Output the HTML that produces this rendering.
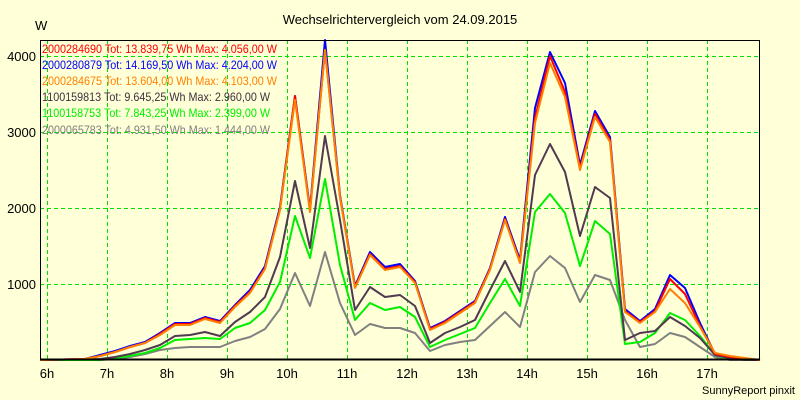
<!DOCTYPE html>
<html><head><meta charset="utf-8"><style>
html,body{margin:0;padding:0;background:#ffffd8;}
svg{display:block;font-family:"Liberation Sans",Arial,sans-serif;}
</style></head><body>
<svg width="800" height="400" viewBox="0 0 800 400" xmlns="http://www.w3.org/2000/svg">
<rect width="800" height="400" fill="#ffffd8"/>
<text x="400" y="24" font-size="13" text-anchor="middle" fill="#000">Wechselrichtervergleich vom 24.09.2015</text>
<text x="35" y="30" font-size="13" fill="#000">W</text>
<g stroke="#00e000" stroke-width="1" stroke-dasharray="4,3" fill="none">
<line x1="40" y1="56.5" x2="759" y2="56.5"/><line x1="40" y1="132.5" x2="759" y2="132.5"/>
<line x1="40" y1="208.5" x2="759" y2="208.5"/><line x1="40" y1="284.5" x2="759" y2="284.5"/>
<line x1="47.5" y1="40" x2="47.5" y2="359"/><line x1="107.5" y1="40" x2="107.5" y2="359"/>
<line x1="167.5" y1="40" x2="167.5" y2="359"/><line x1="227.5" y1="40" x2="227.5" y2="359"/>
<line x1="287.5" y1="40" x2="287.5" y2="359"/><line x1="347.5" y1="40" x2="347.5" y2="359"/>
<line x1="407.5" y1="40" x2="407.5" y2="359"/><line x1="467.5" y1="40" x2="467.5" y2="359"/>
<line x1="527.5" y1="40" x2="527.5" y2="359"/><line x1="587.5" y1="40" x2="587.5" y2="359"/>
<line x1="647.5" y1="40" x2="647.5" y2="359"/><line x1="707.5" y1="40" x2="707.5" y2="359"/>
</g>
<g font-size="13" fill="#000" text-anchor="end">
<text x="36" y="61">4000</text><text x="36" y="137">3000</text><text x="36" y="213">2000</text><text x="36" y="289">1000</text>
</g>
<g font-size="13" fill="#000" text-anchor="middle">
<text x="47" y="378">6h</text><text x="107" y="378">7h</text><text x="167" y="378">8h</text><text x="227" y="378">9h</text>
<text x="287" y="378">10h</text><text x="347" y="378">11h</text><text x="407" y="378">12h</text><text x="467" y="378">13h</text>
<text x="527" y="378">14h</text><text x="587" y="378">15h</text><text x="647" y="378">16h</text><text x="707" y="378">17h</text>
</g>
<text x="795" y="394" font-size="11" text-anchor="end" fill="#000">SunnyReport pinxit</text>
<g fill="none" stroke-width="2" stroke-linejoin="round">
<polyline stroke="#808080" points="40,360 100,360 115,359 130,357 145,354 160,350 175,348 190,347 205,347 220,347 235,341 250,337 265,329 280,309 295,273 310,306 325,252 340,303 355,335 370,324 385,328 400,328 415,333 430,351 445,345 460,342 475,340 490,326 505,312 520,327 535,272 550,256 565,268 580,302 595,275 610,280 625,320 640,347 655,344 670,333 685,337 700,347 715,357 730,360 760,360"/>
<polyline stroke="#00ee00" points="40,360 100,360 115,358 130,356 145,353 160,348 175,340 190,339 205,338 220,339 235,328 250,323 265,310 280,282 295,216 310,258 325,179 340,265 355,320 370,303 385,310 400,307 415,317 430,347 445,340 460,334 475,328 490,303 505,279 520,306 535,212 550,194 565,213 580,266 595,221 610,234 625,344 640,342 655,333 670,313 685,320 700,336 715,355 730,359 760,360"/>
<polyline stroke="#503a50" points="40,360 100,359 115,357 130,354 145,350 160,345 175,336 190,335 205,332 220,336 235,322 250,312 265,297 280,257 295,181 310,248 325,136 340,220 355,310 370,287 385,297 400,295 415,306 430,343 445,333 460,327 475,320 490,290 505,261 520,292 535,175 550,144 565,172 580,236 595,187 610,198 625,340 640,333 655,331 670,317 685,326 700,338 715,355 730,358 745,360 760,360"/>
<polyline stroke="#0000ff" points="40,360 85,359 100,355 115,351 130,346 145,342 160,333 175,323 190,323 205,317 220,321 235,305 250,290 265,266 280,207 295,96 310,209 325,40 340,195 355,286 370,252 385,267 400,264 415,281 430,328 445,321 460,311 475,301 490,268 505,217 520,260 535,108 550,52 565,83 580,165 595,111 610,137 625,309 640,321 655,309 670,275 685,288 700,323 715,354 730,357 745,359 760,360"/>
<polyline stroke="#ff0000" points="40,360 85,359 100,356 115,352 130,347 145,343 160,334 175,324 190,324 205,318 220,322 235,306 250,292 265,268 280,209 295,96 310,211 325,50 340,197 355,287 370,254 385,269 400,266 415,282 430,329 445,322 460,312 475,302 490,269 505,219 520,262 535,118 550,56 565,92 580,168 595,114 610,140 625,311 640,322 655,311 670,279 685,294 700,326 715,354 730,357 745,359 760,360"/>
<polyline stroke="#ff8000" points="40,360 85,359 100,356 115,352 130,347 145,343 160,335 175,325 190,325 205,319 220,323 235,307 250,293 265,269 280,210 295,100 310,212 325,50 340,197 355,288 370,255 385,270 400,267 415,283 430,330 445,323 460,313 475,303 490,270 505,220 520,263 535,123 550,63 565,97 580,170 595,117 610,142 625,312 640,323 655,312 670,289 685,303 700,327 715,353 730,356 745,358 760,360"/>
</g>
<rect x="40.5" y="40.5" width="719" height="319" fill="none" stroke="#000" stroke-width="1"/>
<line x1="40" y1="359.5" x2="760" y2="359.5" stroke="#000" stroke-width="2"/>
<g font-size="12">
<text x="42" y="53" fill="#ff0000" textLength="235" lengthAdjust="spacingAndGlyphs">2000284690 Tot: 13.839,75 Wh Max: 4.056,00 W</text>
<text x="42" y="69" fill="#0000ff" textLength="235" lengthAdjust="spacingAndGlyphs">2000280879 Tot: 14.169,50 Wh Max: 4.204,00 W</text>
<text x="42" y="85" fill="#ff8000" textLength="235" lengthAdjust="spacingAndGlyphs">2000284675 Tot: 13.604,00 Wh Max: 4.103,00 W</text>
<text x="42" y="101" fill="#403040" textLength="228" lengthAdjust="spacingAndGlyphs">1100159813 Tot: 9.645,25 Wh Max: 2.960,00 W</text>
<text x="42" y="117" fill="#00ee00" textLength="228" lengthAdjust="spacingAndGlyphs">1100158753 Tot: 7.843,25 Wh Max: 2.399,00 W</text>
<text x="42" y="134" fill="#808080" textLength="228" lengthAdjust="spacingAndGlyphs">2000065783 Tot: 4.931,50 Wh Max: 1.444,00 W</text>
</g>
</svg>
</body></html>
